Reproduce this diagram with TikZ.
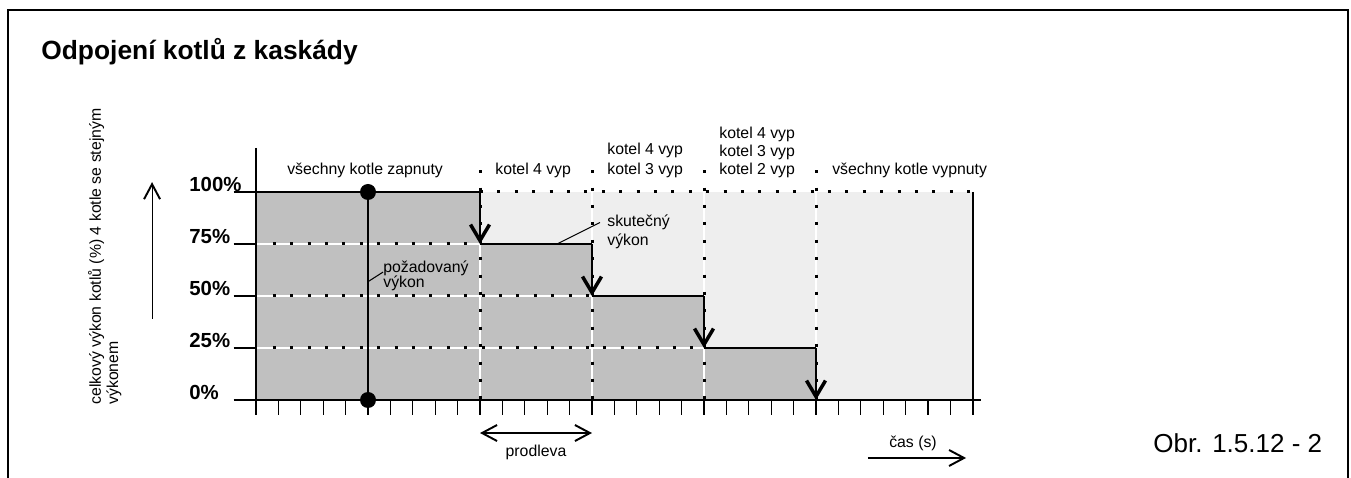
\documentclass[tikz,border=0pt]{standalone}
\usepackage{fontspec}
\setmainfont{Liberation Sans}
\usetikzlibrary{arrows.meta}

\definecolor{pwron}{HTML}{C0C0C0}
\definecolor{pwroff}{HTML}{EEEEEE}

\tikzset{
  txt/.style={font=\fontsize{9}{11}\selectfont, inner sep=0pt},
  pct/.style={font=\bfseries\fontsize{11.6}{13}\selectfont, inner sep=0pt, anchor=base west},
  thinline/.style={line width=0.6pt},
  power/.style={line width=1.5pt},
  drop/.style={line width=1.5pt, -{Straight Barb[length=0.32cm,width=0.38cm,line width=2pt]}},
  wline/.style={white, line width=0.035cm},
  dots/.style={black, line width=0.06cm, dash pattern=on 0.06cm off 0.288cm},
  knob/.style={circle, fill=black, inner sep=0pt, minimum size=0.32cm},
  bt/.tip={Straight Barb[length=0.3cm,width=0.32cm,line width=1.1pt]},
  barb/.style={thinline, -{bt}}
}

\begin{document}
\begin{tikzpicture}[x=0.448cm, y=1.04cm]
  \useasboundingbox (-5.12cm,-1.56cm) rectangle (21.9cm,8cm);

  % frame
  \draw[line width=0.04cm] (-4.96cm,-1.8cm) -- (-4.96cm,7.79cm) -- (21.84cm,7.79cm) -- (21.84cm,-1.8cm);

  \node (title) [font=\bfseries\fontsize{15}{18}\selectfont, anchor=base west, inner sep=0pt]
    at (-4.30cm,6.81cm) {Odpojení kotlů z kaskády};

  % areas
  \fill[pwroff] (10,0) rectangle (32,4);
  \fill[pwron] (0,0) -- (0,4) -- (10,4) -- (10,3) -- (15,3) -- (15,2) -- (20,2)
    -- (20,1) -- (25,1) -- (25,0) -- cycle;

  % grid
  \draw[wline] (0,3) -- (10,3);
  \draw[wline] (0,2) -- (15,2);
  \draw[wline] (0,1) -- (20,1);
  \draw[dots] (0.75,3) -- (10,3);
  \draw[dots] (0.75,2) -- (15,2);
  \draw[dots] (0.75,1) -- (20,1);
  \draw[dots] (10,4) -- (32,4);
  \foreach \c in {10,15,20,25} {
    \draw[wline] (\c,4) -- (\c,0);
    \draw[dots] (\c,4.42) -- (\c,0);
  }

  % axes
  \draw[thinline] (0,4.85) -- (0,-0.288);
  \draw[thinline] (-1,0) -- (32.35,0);
  \draw[line width=0.04cm] (32,4) -- (32,-0.288);
  \foreach \i in {0,...,32}
    \draw[thinline] (\i,0) -- (\i,-0.288);
  \foreach \v in {1,...,4}
    \draw[thinline] (-1,\v) -- (0,\v);
  \foreach \v/\t in {0/0,1/25,2/50,3/75,4/100}
    \node (pct\t) [pct] at (-2.99,\v) {\t\%};

  % actual power
  \draw[power] (0,4) -- (10,4);
  \draw[drop] (10,4) -- (10,3);
  \draw[power] (10,3) -- (15,3);
  \draw[drop] (15,3) -- (15,2);
  \draw[power] (15,2) -- (20,2);
  \draw[drop] (20,2) -- (20,1);
  \draw[power] (20,1) -- (25,1);
  \draw[drop] (25,1) -- (25,0);

  % required power
  \node (reqtop) [knob] at (5,4) {};
  \node (reqbot) [knob] at (5,0) {};
  \coordinate (tend) at (32,0);
  \draw[power] (reqtop.center) -- (reqbot.center) -- (tend);

  % labels
  \node (on) [txt, anchor=base] at (4.87,4.327) {všechny kotle zapnuty};
  \node (off4) [txt, anchor=base west] at (10.67,4.327) {kotel 4 vyp};
  \node (off43a) [txt, anchor=base west] at (15.67,4.73) {kotel 4 vyp};
  \node (off43b) [txt, anchor=base west] at (15.67,4.327) {kotel 3 vyp};
  \node (off432a) [txt, anchor=base west] at (20.67,5.025) {kotel 4 vyp};
  \node (off432b) [txt, anchor=base west] at (20.67,4.679) {kotel 3 vyp};
  \node (off432c) [txt, anchor=base west] at (20.67,4.327) {kotel 2 vyp};
  \node (off) [txt, anchor=base west] at (25.71,4.327) {všechny kotle vypnuty};

  \coordinate (act) at (13.44,3);
  \node (sk) [txt, anchor=base west] at (15.67,3.333) {skutečný};
  \node (skb) [txt, anchor=base west] at (15.67,2.98) {výkon};
  \draw[thinline] (act) -- ([xshift=-0.14cm]sk.west);

  \coordinate (req) at (5,2.275);
  \node (poz) [txt, anchor=base west] at (5.67,2.46) {požadovaný};
  \node (pozb) [txt, anchor=base west] at (5.67,2.17) {výkon};
  \draw[thinline] (req) -- (poz.base west);

  % y label
  \node (ylab) [txt, rotate=90, anchor=base west] at (-6.92,-0.096) {celkový výkon kotlů (\%) 4 kotle se stejným};
  \node (ylabb) [txt, rotate=90, anchor=base west] at (-6.16,-0.096) {výkonem};
  \coordinate (up0) at (-4.64,1.56);
  \coordinate (up1) at (-4.64,4.19);
  \draw[barb] (up0) -- (up1);

  % delay and time
  \coordinate (d0) at (10,-0.635);
  \coordinate (d1) at (15,-0.635);
  \draw[thinline, {bt}-{bt}] (d0) -- (d1);
  \node (delay) [txt, anchor=base] at (12.5,-1.077) {prodleva};

  \coordinate (t0) at (27.32,-1.115);
  \coordinate (t1) at (31.7,-1.115);
  \draw[barb] (t0) -- (t1);
  \node (cas) [txt, anchor=base] at (29.33,-0.923) {čas (s)};

  \node (fig) [font=\fontsize{14.8}{17}\selectfont, anchor=base east, inner sep=0pt]
    at (21.33cm,-1.054cm) {Obr. 1.5.12 - 2};
\end{tikzpicture}
\end{document}
